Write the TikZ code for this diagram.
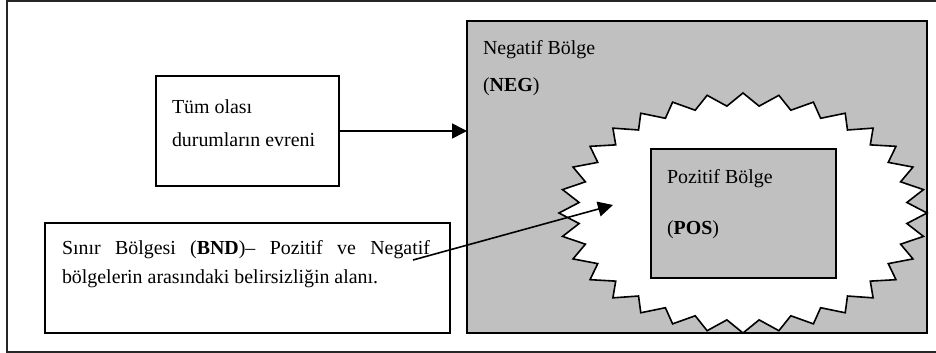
\documentclass[tikz,border=0pt]{standalone}
\usepackage{fontspec}
\setmainfont{Liberation Serif}
\usetikzlibrary{arrows.meta}
\definecolor{regiongray}{RGB}{192,192,192}
\begin{document}
\begin{tikzpicture}[x=1pt,y=-1pt,
  every node/.style={inner sep=0pt, outer sep=0pt},
  label text/.style={anchor=base west, font=\fontsize{19.9}{24}\selectfont},
  boxline/.style={draw=black, line width=1.6pt},
  plainbox/.style={boxline, fill=white, rectangle},
  graybox/.style={boxline, fill=regiongray, rectangle},
  pointer/.style={draw=black, line width=1.6pt, -{Triangle[length=15pt,width=15pt]}}]
\useasboundingbox (0,0) rectangle (936,353);

% outer frame (runs past the right edge)
\draw[boxline, draw=black!85] (7,1) rectangle (946,352);

% negative region
\node[graybox, minimum width=460pt, minimum height=312pt] (neg) at (697,177) {};

% boundary region: 32-point seal
\draw[boxline, fill=white, line join=miter]
  (743+184,213)
  \foreach \i in {1,...,63} {
    -- ({743+ifthenelse(mod(\i,2)==0,1,0.895)*184*cos(\i*5.625)},
        {213-ifthenelse(mod(\i,2)==0,1,0.895)*120*sin(\i*5.625)})
  } -- cycle;

% positive region
\node[graybox, minimum width=185pt, minimum height=129pt] (pos) at (743.5,213.5) {};

% universe box and boundary description box
\node[plainbox, minimum width=183pt, minimum height=110pt] (univ) at (247.5,131) {};
\node[plainbox, minimum width=405pt, minimum height=110pt] (bnd) at (247.5,278) {};

% texts
\node[label text] (univ1) at (172,113) {Tüm olası};
\node[label text] (univ2) at (172,146) {durumların evreni};
\node[label text] (neg1) at (483,55) {Negatif Bölge};
\node[label text] (neg2) at (483,91) {(\textbf{NEG})};
\node[label text] (pos1) at (667,183) {Pozitif Bölge};
\node[label text] (pos2) at (667,234) {(\textbf{POS})};
\node[label text] (bnd1) at (62,254) {\makebox[368pt][s]{Sınır Bölgesi (\textbf{BND})– Pozitif ve Negatif}};
\node[label text] (bnd2) at (62,283) {bölgelerin arasındaki belirsizliğin alanı.};

% connectors
\draw[pointer] (univ.east) -- (univ.east -| neg.west);
\coordinate (bndtail) at (413,260);
\coordinate (bndhead) at (613,205);
\draw[pointer] (bndtail) -- (bndhead);
\end{tikzpicture}
\end{document}
